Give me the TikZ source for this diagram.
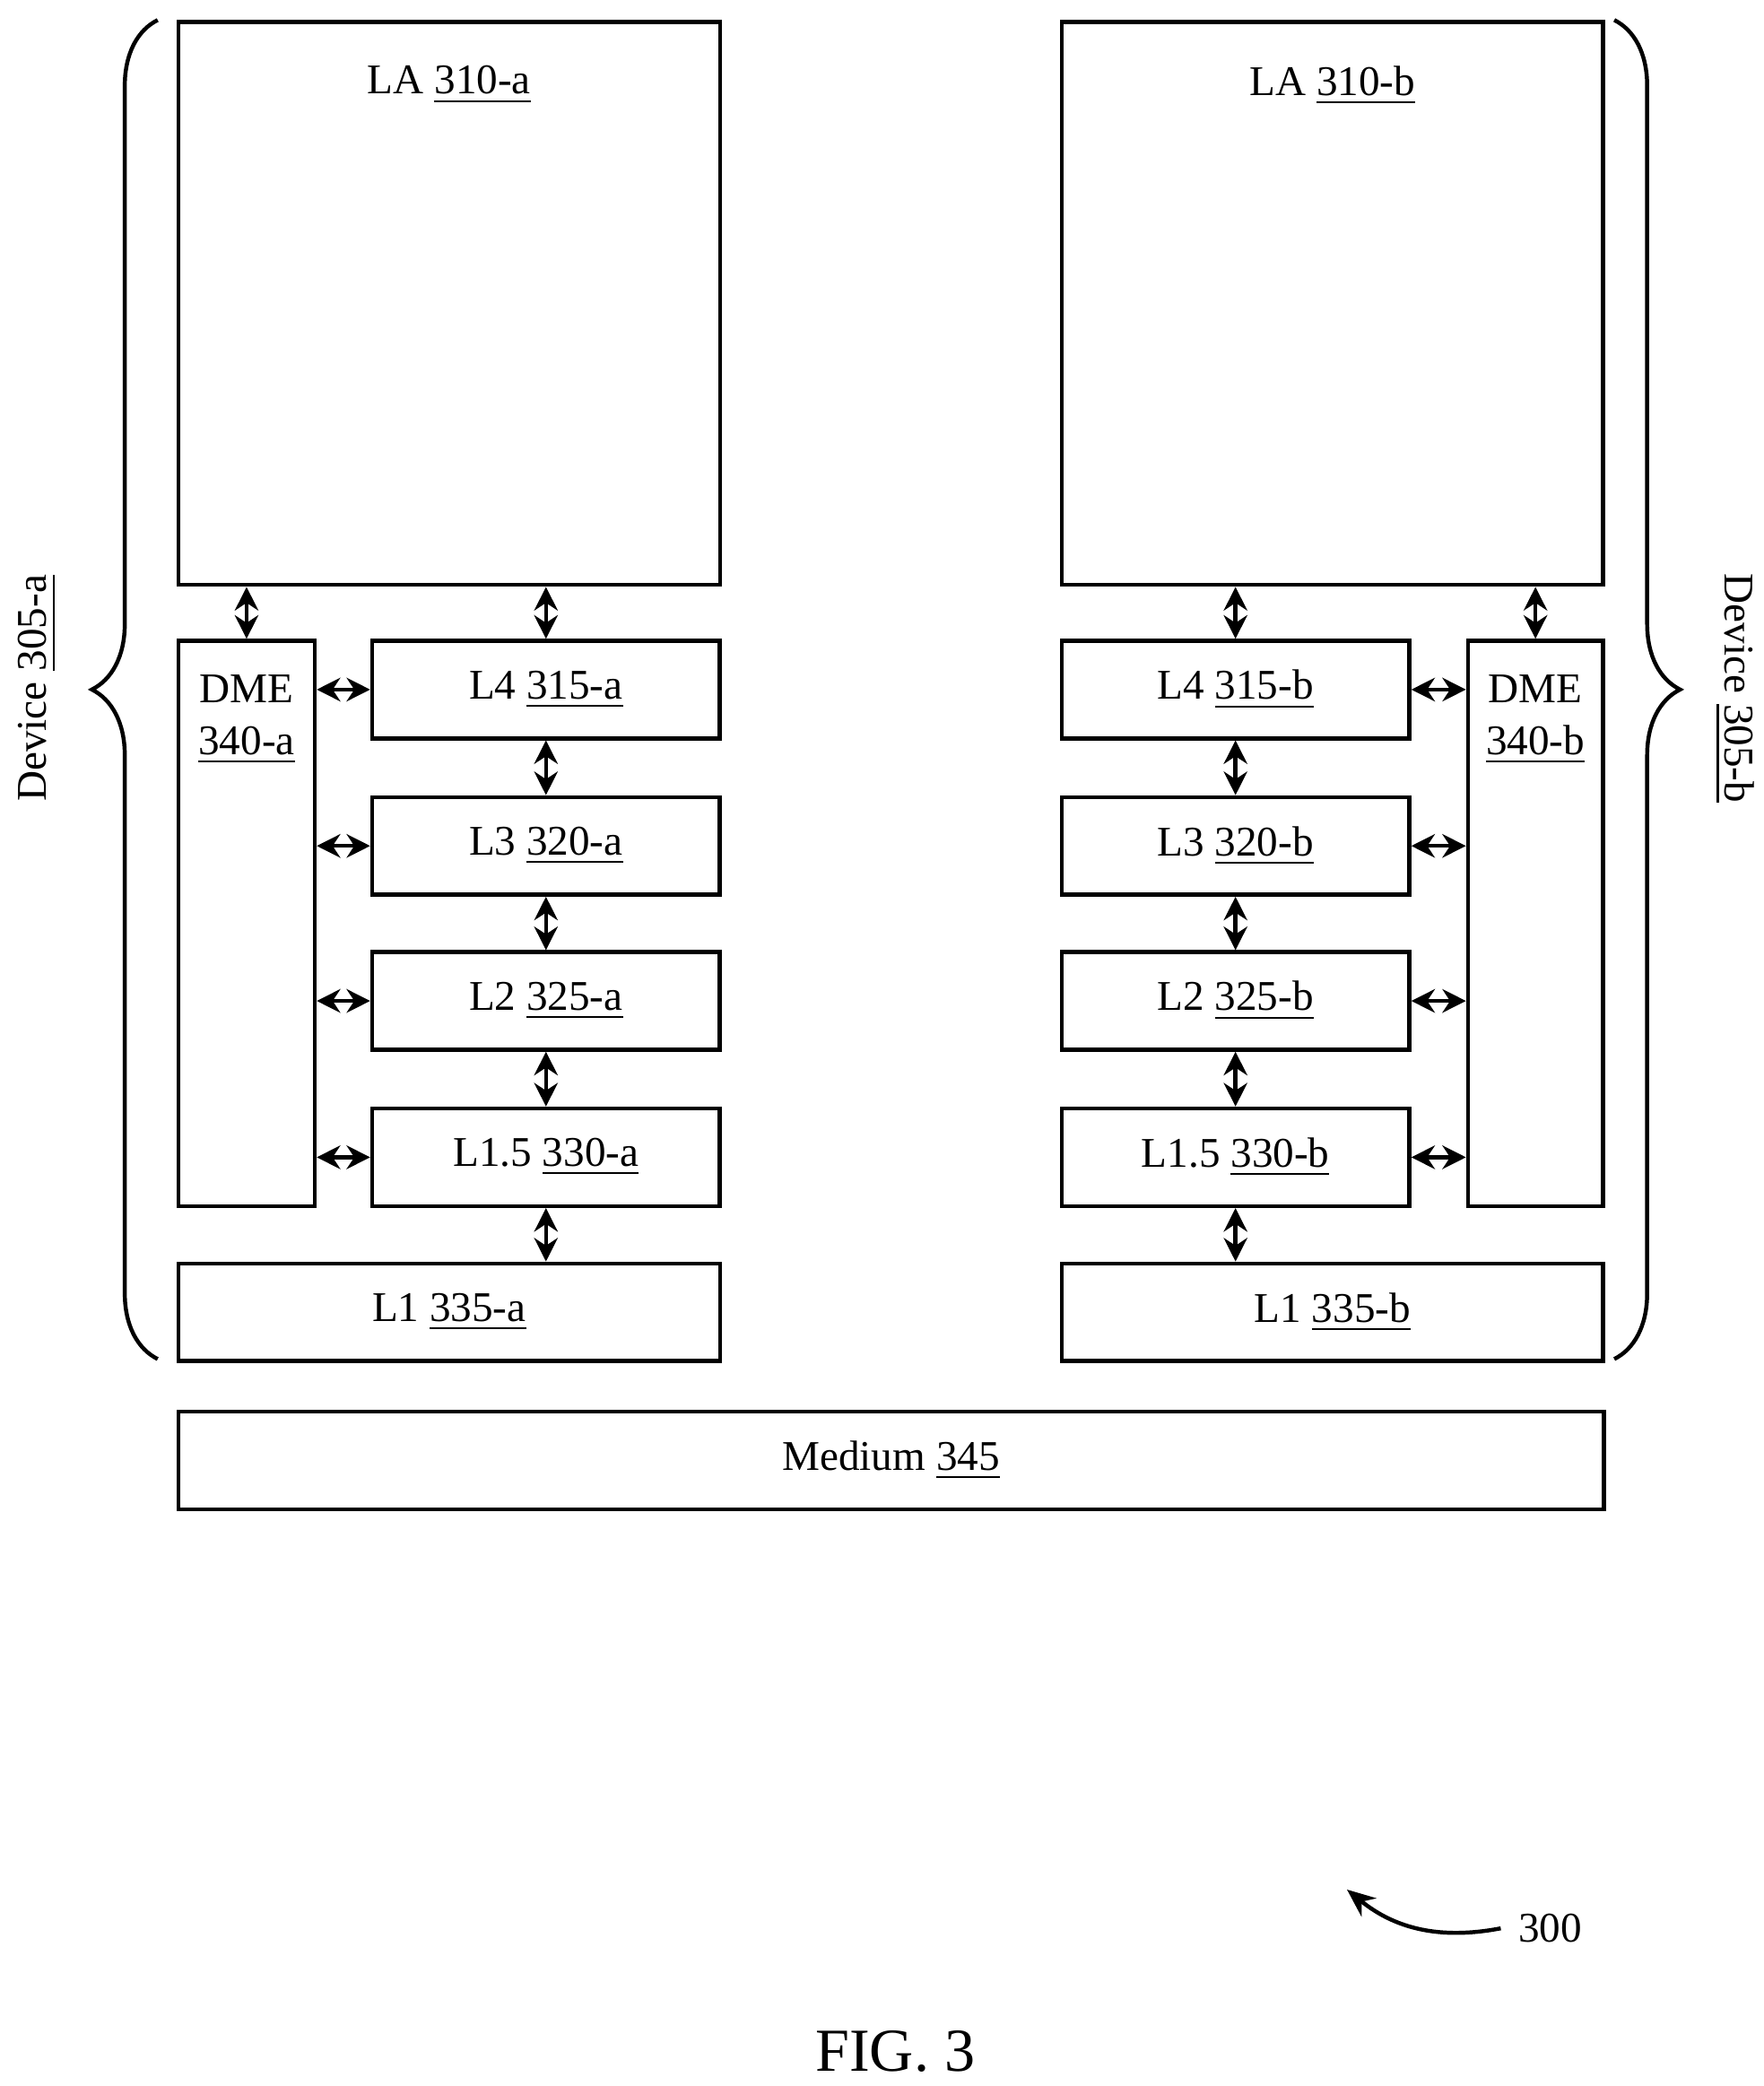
\documentclass[tikz,border=0pt]{standalone}
\usepackage{fontspec}
\setmainfont{Liberation Serif}
\usetikzlibrary{arrows.meta,decorations.pathreplacing}

\begin{document}
\begin{tikzpicture}[x=0.01cm,y=-0.01cm,line width=0.85pt,
  font=\fontsize{9}{11}\selectfont,
  layer/.style={draw,rectangle,anchor=north west,inner sep=0pt},
  link/.style={{Stealth[length=5pt,width=5pt]}-{Stealth[length=5pt,width=5pt]}},
  dev brace/.style={decorate,decoration={brace,amplitude=14pt}}]

  \useasboundingbox (0,0) rectangle (1320,1561);

  % device a
  \node[layer,minimum width=4.05cm,minimum height=4.21cm] (la a) at (132,15) {};
  \node[below=6pt] at (la a.north) {LA \underline{310-a}};
  \node[layer,minimum width=1.02cm,minimum height=4.23cm] (dme a) at (132,478) {};
  \node[below=4pt,align=center] at (dme a.north) {DME\\\underline{340-a}};
  \node[layer,minimum width=2.6cm,minimum height=0.73cm] (l4 a) at (277,478) {L4 \underline{315-a}};
  \node[layer,minimum width=2.6cm,minimum height=0.73cm] (l3 a) at (277,595) {L3 \underline{320-a}};
  \node[layer,minimum width=2.6cm,minimum height=0.73cm] (l2 a) at (277,711) {L2 \underline{325-a}};
  \node[layer,minimum width=2.6cm,minimum height=0.73cm] (l15 a) at (277,828) {L1.5 \underline{330-a}};
  \node[layer,minimum width=4.05cm,minimum height=0.73cm] (l1 a) at (132,944) {L1 \underline{335-a}};

  % device b
  \node[layer,minimum width=4.05cm,minimum height=4.21cm] (la b) at (793,15) {};
  \node[below=6pt] at (la b.north) {LA \underline{310-b}};
  \node[layer,minimum width=1.01cm,minimum height=4.23cm] (dme b) at (1097,478) {};
  \node[below=4pt,align=center] at (dme b.north) {DME\\\underline{340-b}};
  \node[layer,minimum width=2.6cm,minimum height=0.73cm] (l4 b) at (793,478) {L4 \underline{315-b}};
  \node[layer,minimum width=2.6cm,minimum height=0.73cm] (l3 b) at (793,595) {L3 \underline{320-b}};
  \node[layer,minimum width=2.6cm,minimum height=0.73cm] (l2 b) at (793,711) {L2 \underline{325-b}};
  \node[layer,minimum width=2.6cm,minimum height=0.73cm] (l15 b) at (793,828) {L1.5 \underline{330-b}};
  \node[layer,minimum width=4.05cm,minimum height=0.73cm] (l1 b) at (793,944) {L1 \underline{335-b}};

  \node[layer,minimum width=10.66cm,minimum height=0.73cm] (medium) at (132,1055) {Medium \underline{345}};

  % links
  \draw[link] (dme a.north |- la a.south) -- (dme a.north);
  \draw[link] (la a.south -| l4 a.north) -- (l4 a.north);
  \draw[link] (l4 a) -- (l3 a);
  \draw[link] (l3 a) -- (l2 a);
  \draw[link] (l2 a) -- (l15 a);
  \draw[link] (l15 a.south) -- (l15 a.south |- l1 a.north);
  \foreach \n in {l4,l3,l2,l15}
    \draw[link] (\n\space a.west -| dme a.east) -- (\n\space a.west);

  \draw[link] (dme b.north |- la b.south) -- (dme b.north);
  \draw[link] (la b.south -| l4 b.north) -- (l4 b.north);
  \draw[link] (l4 b) -- (l3 b);
  \draw[link] (l3 b) -- (l2 b);
  \draw[link] (l2 b) -- (l15 b);
  \draw[link] (l15 b.south) -- (l15 b.south |- l1 b.north);
  \foreach \n in {l4,l3,l2,l15}
    \draw[link] (\n\space b.east) -- (\n\space b.east -| dme b.west);

  % devices
  \coordinate (brace a top) at (118,15);
  \coordinate (brace a bot) at (118,1017);
  \draw[dev brace] (brace a bot) -- (brace a top);
  \node[rotate=90] (dev a) at (28,515) {Device \underline{305-a}};
  \coordinate (brace b top) at (1208,15);
  \coordinate (brace b bot) at (1208,1017);
  \draw[dev brace] (brace b top) -- (brace b bot);
  \node[rotate=-90] (dev b) at (1298,515) {Device \underline{305-b}};

  % figure reference
  \node (ref) at (1160,1443) {300};
  \coordinate (ref tip) at (1008,1414);
  \draw[-{Stealth[length=6pt,width=5pt]}] (ref.west) to[bend left=25] (ref tip);
  \node[font=\fontsize{13}{15}\selectfont] (fig) at (670,1535) {FIG. 3};
\end{tikzpicture}
\end{document}
